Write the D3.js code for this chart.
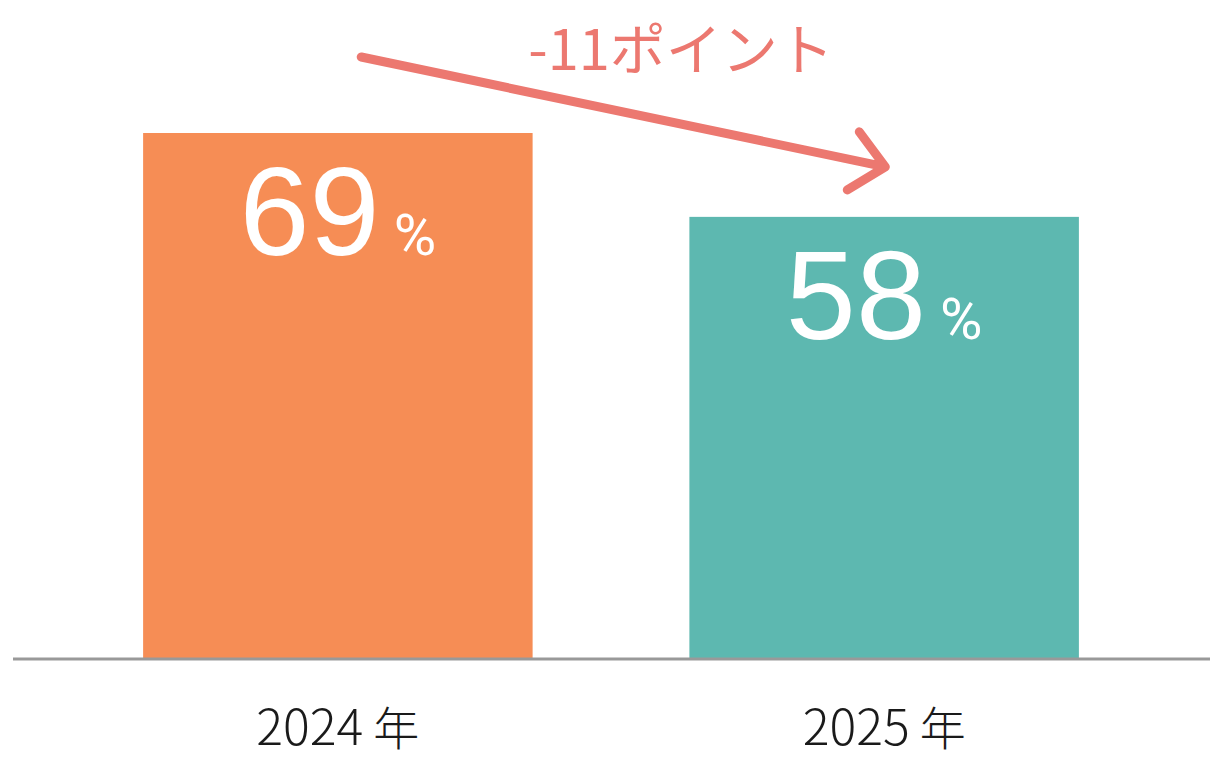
<!DOCTYPE html>
<html>
<head>
<meta charset="utf-8">
<script src="https://cdn.jsdelivr.net/npm/d3@7"></script>
<style>
  html, body { margin: 0; padding: 0; background: #fff; }
</style>
</head>
<body>
<div id="chart"></div>
<script>
// data
const years = ["2024", "2025"];
const values = [69, 58];
const barColors = ["#f68d55", "#5db8b0"];
const changeLabel = "-11ポイント";

const width = 1224;
const height = 766;
const BASEY = 659;

function main() {
  const svg = d3.select("#chart")
      .append("svg")
      .attr("width", width)
      .attr("height", height);

  const x = d3.scaleBand()
      .domain(years)
      .range([12, 1210])
      .paddingInner(0.287)
      .paddingOuter(0.24);

  // 0..100 percent, 100 goes off the top
  const y = d3.scaleLinear()
      .domain([0, 100])
      .range([BASEY, BASEY - 762.3]);

  const data = years.map((yr, i) => ({ year: yr, value: values[i], color: barColors[i] }));

  svg.selectAll("rect.bar")
    .data(data)
    .join("rect")
      .attr("class", "bar")
      .attr("x", d => x(d.year))
      .attr("y", d => y(d.value))
      .attr("width", x.bandwidth())
      .attr("height", d => y(0) - y(d.value))
      .attr("fill", d => d.color);

  // baseline axis, no ticks
  const axis = svg.append("g")
      .attr("transform", `translate(0,${BASEY})`)
      .call(d3.axisBottom(x).tickSize(0).tickPadding(0).tickFormat(""));
  axis.select(".domain")
      .attr("d", `M13,0H1210`)
      .attr("stroke", "#999")
      .attr("stroke-width", 3);

  // category labels
  const lab = svg.selectAll("text.cat")
    .data(data)
    .join("text")
      .attr("class", "cat")
      .attr("x", d => x(d.year) + x.bandwidth() / 2)
      .attr("y", 745)
      .attr("text-anchor", "middle")
      .attr("fill", "#1a1a1a")
      .style("font-family", "'Noto Sans CJK JP', 'Noto Sans', sans-serif")
      .style("font-weight", 300)
      .style("font-size", "50px");
  lab.append("tspan").text(d => d.year);
  lab.append("tspan").attr("dx", 10).style("font-size", "46px").text("年");

  // value labels inside bars
  const val = svg.selectAll("text.val")
    .data(data)
    .join("text")
      .attr("class", "val")
      .attr("x", d => x(d.year) + x.bandwidth() / 2)
      .attr("y", d => y(d.value) + 122)
      .attr("text-anchor", "middle")
      .attr("fill", "#fff");
  val.append("tspan")
      .style("font-family", "'Liberation Sans', Arial, sans-serif")
      .style("font-size", "126px")
      .text(d => d.value);
  val.append("tspan")
      .attr("dx", 14)
      .style("font-family", "Roboto, sans-serif")
      .style("font-weight", 400)
      .style("font-size", "58px")
      .text("%");

  // change arrow
  const x0 = x(years[0]) + x.bandwidth() * 0.56;
  const x1 = x(years[1]) + x.bandwidth() * 0.503;
  const y0 = y(values[0]) - 76;
  const y1 = y(values[1]) - 50;
  const arrowColor = "#ec7870";

  const p = d3.path();
  p.moveTo(x0, y0);
  p.lineTo(x1, y1);
  p.moveTo(x1 - 26, y1 - 35);
  p.lineTo(x1, y1);
  p.lineTo(x1 - 38, y1 + 23);

  svg.append("path")
      .attr("d", p.toString())
      .attr("fill", "none")
      .attr("stroke", arrowColor)
      .attr("stroke-width", 9)
      .attr("stroke-linecap", "round")
      .attr("stroke-linejoin", "round");

  svg.append("text")
      .attr("x", 681)
      .attr("y", 70)
      .attr("text-anchor", "middle")
      .attr("fill", arrowColor)
      .style("font-family", "'Noto Sans CJK JP', 'Noto Sans', sans-serif")
      .style("font-size", "56px")
      .style("font-weight", 400)
      .text(changeLabel);
}

main();
</script>
</body>
</html>
